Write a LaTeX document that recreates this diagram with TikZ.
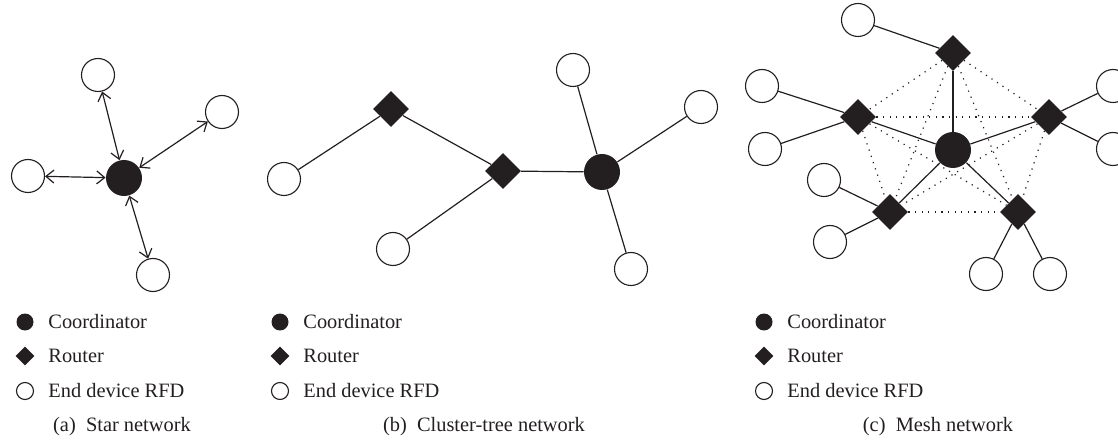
\documentclass[tikz,border=0pt]{standalone}
\usepackage{fontspec}
\setmainfont{Liberation Serif}
\usetikzlibrary{shapes.geometric,arrows.meta}
\definecolor{ink}{HTML}{231F20}
\tikzset{
  enddev/.style={circle, draw=ink, fill=white, line width=0.55pt, minimum size=16.5pt, inner sep=0pt},
  coordnode/.style={circle, fill=ink, minimum size=18pt, inner sep=0pt},
  router/.style={diamond, fill=ink, minimum size=18pt, inner sep=0pt},
  link/.style={draw=ink, line width=0.6pt},
  meshlink/.style={draw=ink, line width=0.6pt, dash pattern=on 0.6pt off 2.7pt},
  legtext/.style={anchor=west, text=ink, inner sep=0pt, font=\fontsize{10.2}{12}\selectfont},
}
\begin{document}
\begin{tikzpicture}[x=0.5pt, y=-0.5pt, >={Straight Barb[length=4pt,width=6.5pt]}]
\useasboundingbox (0,0) rectangle (1118,443);

% (a) Star network
\node[coordnode] (sc) at (124,178) {};
\node[enddev] (st) at (98,75) {};
\node[enddev] (sr) at (222,112) {};
\node[enddev] (sl) at (28,176) {};
\node[enddev] (sb) at (153,275) {};
\foreach \e in {st,sr,sl,sb}
  \draw[link,<->] (sc) -- (\e);

% (b) Cluster-tree network
\node[router] (r1) at (391,109) {};
\node[router] (r2) at (503,171) {};
\node[coordnode] (cc) at (602,172) {};
\node[enddev] (ce1) at (284,179) {};
\node[enddev] (ce2) at (393,249) {};
\node[enddev] (ce3) at (573,70) {};
\node[enddev] (ce4) at (701,107) {};
\node[enddev] (ce5) at (631,269) {};
\draw[link] (ce1) -- (r1) -- (r2) -- (cc);
\draw[link] (ce2) -- (r2);
\foreach \e in {ce3,ce4,ce5}
  \draw[link] (cc) -- (\e);

% (c) Mesh network
\node[coordnode] (mc) at (953,150) {};
\node[router] (mt) at (953,53) {};
\node[router] (ml) at (858,117) {};
\node[router] (mr) at (1049,117) {};
\node[router] (mbl) at (890,212) {};
\node[router] (mbr) at (1018,212) {};
\foreach \a/\b in {mt/ml,mt/mr,mt/mbl,mt/mbr,ml/mr,ml/mbl,ml/mbr,mr/mbl,mr/mbr,mbl/mbr}
  \draw[meshlink] (\a) -- (\b);
\foreach \r in {mt,ml,mr,mbl,mbr}
  \draw[link] (mc) -- (\r);
\node[enddev] (me1) at (858,20) {};
\node[enddev] (me2) at (762,86) {};
\node[enddev] (me3) at (765,149) {};
\node[enddev] (me4) at (824,180) {};
\node[enddev] (me5) at (830,242) {};
\node[enddev] (me6) at (986,274) {};
\node[enddev] (me7) at (1050,274) {};
\node[enddev] (me8) at (1113,86) {};
\node[enddev] (me9) at (1113,149) {};
\foreach \e/\r in {me1/mt,me2/ml,me3/ml,me4/mbl,me5/mbl,me6/mbr,me7/mbr,me8/mr,me9/mr}
  \draw[link] (\e) -- (\r);

% legends
\foreach \sx/\tx/\n in {25/48/a,280/303/b,764/787/c} {
  \node[coordnode, minimum size=8.5pt] (lc\n) at (\sx,322) {};
  \node[router, minimum size=9.5pt] (lr\n) at (\sx,356) {};
  \node[enddev, minimum size=8.5pt] (le\n) at (\sx,391) {};
  \node[legtext] (tc\n) at (\tx,322) {Coordinator};
  \node[legtext] (tr\n) at (\tx,356) {Router};
  \node[legtext] (te\n) at (\tx,391) {End device RFD};
}

% captions
\node[legtext, anchor=center] (capa) at (122,427) {(a)\ \ Star network};
\node[legtext, anchor=center] (capb) at (484,427) {(b)\ \ Cluster-tree network};
\node[legtext, anchor=center] (capc) at (938,427) {(c)\ \ Mesh network};
\end{tikzpicture}
\end{document}
